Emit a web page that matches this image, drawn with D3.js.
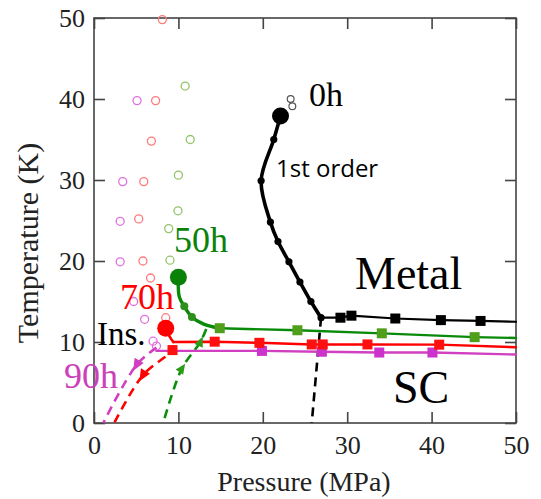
<!DOCTYPE html>
<html>
<head>
<meta charset="utf-8">
<script src="https://cdn.jsdelivr.net/npm/d3@7"></script>
<style>
  body { margin: 0; background: #fff; }
</style>
</head>
<body>
<svg id="chart" width="541" height="499"></svg>
<script>
// ---- data, [pressure MPa, temperature K] ----
const openRed   = [[8.1,49.8],[7.3,39.8],[6.8,34.8],[5.9,29.8],[5.3,25.2],[5.8,20.0],[6.7,17.9],[8.5,13.0]];
const openPink  = [[5.1,39.8],[3.4,29.8],[3.1,24.9],[3.1,19.9],[4.7,15.0],[6.0,12.8],[7.0,10.1],[7.4,9.5]];
const openGreen = [[10.8,41.6],[11.4,35.0],[10.0,30.6],[9.95,26.2],[8.85,24.0],[9.0,20.1]];
const openBlack = [[23.3,40.0],[23.5,39.1]];

// 0h
const curve0h = [[22.1,37.9],[21.3,35.0],[19.8,29.9],[20.9,24.8],[21.8,22.4],[23.1,19.9],[24.4,17.4],[25.7,15.0],[26.9,13.0]];
const flat0h  = [[26.9,13.0],[29.2,13.0],[30.5,13.25],[35.7,12.9],[41.1,12.7],[45.8,12.6],[50,12.5]];
const dash0h  = [[26.9,13.0],[25.8,0]];

// 50h
const curve50h = [[10.0,18.0],[10.1,15.6],[10.7,14.4],[11.6,13.1],[13.0,12.2],[14.9,11.7]];
const flat50h  = [[14.9,11.7],[24.1,11.45],[34.1,11.07],[45.1,10.6],[50,10.5]];
const dash50h  = [[13.3,11.6],[12.6,10.0],[10.4,6.7],[8.2,0]];
const tri50h   = [[12.6,10.0],[10.4,6.7]];

// 70h
const curve70h = [[8.5,11.7],[9.0,10.6],[9.4,10.0]];
const flat70h  = [[9.4,10.0],[14.3,10.04],[19.6,9.9],[25.8,9.7],[27.1,9.7],[32.4,9.7],[40.9,9.67],[50,9.35]];
const extra70h = [[9.3,9.0]];
const dash70h  = [[9.4,9.6],[9.3,9.0],[5.8,5.9],[2.4,0]];
const arrow70h = [5.8,5.9];

// 90h
const flat90h  = [[7.4,8.9],[19.9,8.9],[27.0,8.8],[33.8,8.7],[40.1,8.7],[50,8.45]];
const dash90h  = [[7.4,9.3],[5.06,7.2],[1.1,0]];
const arrow90h = [5.06,7.2];

// critical end points
const critP = [22.1, 10.0, 8.5];
const critT = [37.9, 18.0, 11.7];
const critColor = ["#000", "#0a820a", "#ff0000"];

const xTicks = [0,10,20,30,40,50];
const yTicks = [0,10,20,30,40,50];

// ---- layout ----
const svg = d3.select("#chart");
const mLeft = 94, mRight = 516, mTop = 18, mBottom = 423;
const serif = "'Liberation Serif', 'Times New Roman', serif";

const x = d3.scaleLinear().domain([0,50]).range([mLeft,mRight]);
const y = d3.scaleLinear().domain([0,50]).range([mBottom,mTop]);

const line = d3.line().x(d => x(d[0])).y(d => y(d[1]));
const smooth = d3.line().x(d => x(d[0])).y(d => y(d[1])).curve(d3.curveCatmullRom.alpha(0.5));

// axes, ticks pointing inward on all four sides
const axB = svg.append("g").attr("transform", `translate(0,${mBottom})`)
  .call(d3.axisBottom(x).tickValues(xTicks).tickSize(-11).tickPadding(13).tickFormat(d3.format("d")));
const axL = svg.append("g").attr("transform", `translate(${mLeft},0)`)
  .call(d3.axisLeft(y).tickValues(yTicks).tickSize(-11).tickPadding(9).tickFormat(d3.format("d")));
const axT = svg.append("g").attr("transform", `translate(0,${mTop})`)
  .call(d3.axisTop(x).tickValues(xTicks).tickSize(-11).tickFormat(""));
const axR = svg.append("g").attr("transform", `translate(${mRight},0)`)
  .call(d3.axisRight(y).tickValues(yTicks).tickSize(-11).tickFormat(""));

[axB, axL, axT, axR].forEach(g => {
  g.select(".domain").remove();
  g.selectAll(".tick line").attr("stroke", "#444").attr("stroke-width", 1.6);
  g.selectAll("text").style("font-size", "26px").style("font-family", serif).attr("fill", "#222");
});

svg.append("rect")
  .attr("x", mLeft).attr("y", mTop)
  .attr("width", mRight - mLeft).attr("height", mBottom - mTop)
  .attr("fill", "none").attr("stroke", "#444").attr("stroke-width", 1.6);

svg.append("text")
  .attr("x", (mLeft + mRight) / 2 - 1).attr("y", 491)
  .attr("text-anchor", "middle").attr("fill", "#222")
  .style("font-size", "28px").style("font-family", serif)
  .text("Pressure (MPa)");

svg.append("text")
  .attr("transform", "translate(38,243) rotate(-90)")
  .attr("text-anchor", "middle").attr("fill", "#222")
  .style("font-size", "30px").style("font-family", serif)
  .text("Temperature (K)");

// open circles
function openCircles(data, color) {
  svg.append("g").selectAll("circle").data(data).join("circle")
    .attr("cx", d => x(d[0])).attr("cy", d => y(d[1])).attr("r", 4)
    .attr("fill", "none").attr("stroke", color).attr("stroke-width", 1.3);
}
openCircles(openRed, "#ff7a7a");
openCircles(openPink, "#e070e0");
openCircles(openGreen, "#93c46a");

// dashed lines
function dashed(data, color) {
  svg.append("path").datum(data).attr("d", smooth)
    .attr("fill", "none").attr("stroke", color).attr("stroke-width", 2.6)
    .attr("stroke-dasharray", "9,6");
}
dashed(dash0h, "#000");
dashed(dash50h, "#0a8f0a");
dashed(dash70h, "#ff0000");
dashed(dash90h, "#d040c0");

// solid lines
function solid(data, color, w, gen) {
  svg.append("path").datum(data).attr("d", gen)
    .attr("fill", "none").attr("stroke", color).attr("stroke-width", w)
    .attr("stroke-linejoin", "round").attr("stroke-linecap", "round");
}
solid(flat90h, "#d040c0", 2.4, line);
solid(flat70h, "#ff0000", 2.4, line);
solid(curve70h, "#ff0000", 2.6, smooth);
solid(flat50h, "#0a8a0a", 2.4, line);
solid(curve50h, "#0a8a0a", 3.4, smooth);
solid(flat0h, "#000", 2.2, line);
solid(curve0h, "#000", 3.6, smooth);

// square markers
function squares(data, color) {
  svg.append("g").selectAll("rect").data(data).join("rect")
    .attr("x", d => x(d[0]) - 5).attr("y", d => y(d[1]) - 5)
    .attr("width", 10).attr("height", 10).attr("fill", color);
}
squares(flat90h.slice(1, -1), "#cc33cc");
squares(flat70h.slice(1, -1), "#ff1010");
squares(extra70h, "#ff1010");
squares(flat50h.slice(0, -1), "#4f9e1c");
squares(flat0h.slice(1, -1), "#000");

// small dots
function dots(data, color, r) {
  svg.append("g").selectAll("circle").data(data).join("circle")
    .attr("cx", d => x(d[0])).attr("cy", d => y(d[1])).attr("r", r).attr("fill", color);
}
dots(curve0h.slice(1), "#000", 3.6);
dots(curve50h.slice(2, 4), "#2e8f1a", 4);

// arrow heads / triangles along the dashed lines
function head(pt, dir, color, size) {
  const px = x(pt[0]), py = y(pt[1]);
  const ang = Math.atan2(y(dir[1]) - py, x(dir[0]) - px) * 180 / Math.PI;
  svg.append("path")
    .attr("d", `M${size},0 L${-size * 0.7},${-size * 0.75} L${-size * 0.7},${size * 0.75} Z`)
    .attr("transform", `translate(${px},${py}) rotate(${ang})`)
    .attr("fill", color);
}
head(arrow70h, dash70h[3], "#ff0000", 7);
head(arrow90h, dash90h[2], "#d040c0", 7);
tri50h.forEach((p, i) => head(p, dash50h[i], "#2e9a1a", 6));

// open black circles above the 0h end point
svg.append("g").selectAll("circle").data(openBlack).join("circle")
  .attr("cx", d => x(d[0])).attr("cy", d => y(d[1])).attr("r", 3.4)
  .attr("fill", "#fff").attr("stroke", "#555").attr("stroke-width", 1.2);

// big filled end points
svg.append("g").selectAll("circle").data(critP).join("circle")
  .attr("cx", d => x(d)).attr("cy", (d, i) => y(critT[i])).attr("r", 8.5)
  .attr("fill", (d, i) => critColor[i]);

// labels
function label(txt, px, py, size, color, family) {
  svg.append("text").attr("x", px).attr("y", py).attr("fill", color)
    .style("font-size", size + "px")
    .style("font-family", family || serif)
    .text(txt);
}
label("0h", 309, 106, 34, "#000");
label("1st order", 276, 177, 24, "#000", "'Open Sans', sans-serif");
label("Metal", 355, 289, 46, "#000");
label("SC", 393, 403, 46, "#000");
label("50h", 174, 252, 36, "#0a820a");
label("70h", 120, 309, 36, "#ff0000");
label("Ins.", 97, 345, 33, "#000");
label("90h", 64, 388, 36, "#cc40b8");
</script>
</body>
</html>
